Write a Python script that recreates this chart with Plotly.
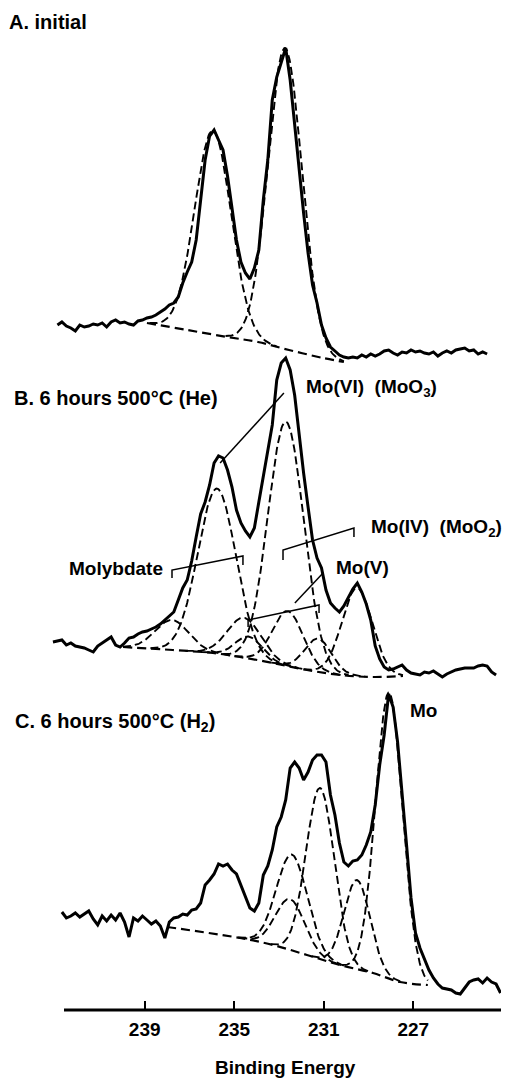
import numpy as np
import plotly.graph_objects as go

W, H = 512, 1078
STEP = 0.2  # eV per channel
FONT = "Liberation Sans"

# ---------------- measured Mo 3d spectra (arbitrary units) ----------------
# channel 0 sits at *_start, binding energy decreases by STEP per channel
A_start = 242.9
A_counts = [50, 53, 49, 47, 44, 50, 48, 49, 51, 50, 52, 48, 53, 55, 52, 53, 51, 50, 54, 55,
            57, 58, 60, 63, 66, 70, 72, 78, 92, 103, 113, 135, 175, 215, 239, 245, 235, 225, 199, 167,
            135, 113, 102, 96, 107, 125, 175, 215, 275, 298, 313, 327, 295, 250, 203, 162, 122, 90, 72, 50,
            37, 28, 24, 20, 18, 17, 18, 17, 20, 18, 21, 19, 21, 24, 25, 22, 20, 23, 22, 25,
            23, 24, 22, 21, 23, 19, 22, 24, 22, 25, 26, 27, 24, 25, 21, 23, 21]

B_start = 243.1
B_counts = [58, 59, 60, 55, 57, 54, 53, 52, 50, 48, 54, 57, 60, 63, 55, 53, 57, 62, 63, 66,
            68, 69, 71, 73, 76, 80, 84, 88, 100, 112, 120, 139, 163, 186, 198, 215, 237, 244, 242, 230,
            213, 190, 177, 169, 163, 172, 198, 225, 248, 275, 320, 337, 342, 330, 305, 263, 227, 193, 160, 142,
            132, 110, 97, 92, 88, 94, 102, 111, 117, 108, 96, 80, 54, 41, 33, 30, 31, 33, 35, 30,
            27, 26, 25, 28, 27, 29, 26, 23, 26, 28, 30, 31, 32, 32, 32, 34, 35, 34, 28, 25]

C_start = 242.7
C_counts = [98, 92, 94, 97, 93, 96, 99, 91, 85, 94, 89, 95, 90, 97, 88, 73, 92, 89, 94, 90,
            86, 89, 84, 72, 88, 92, 93, 96, 95, 100, 101, 107, 125, 130, 136, 146, 144, 146, 140, 136,
            124, 113, 102, 99, 107, 135, 144, 160, 183, 193, 210, 242, 248, 242, 230, 238, 250, 255, 255, 248,
            215, 195, 167, 148, 144, 149, 150, 155, 165, 178, 205, 245, 275, 316, 303, 268, 220, 165, 112, 77,
            62, 50, 40, 32, 26, 22, 21, 20, 17, 16, 22, 28, 30, 31, 27, 32, 28, 26, 17]

# ---------------- fitted backgrounds (BE, intensity) ----------------
A_bg_E = [238.9, 237.1, 235.3, 233.94, 232.55, 231.03, 230.1]
A_bg_I = [52, 45, 38, 33, 25, 17, 13]
B_bg_E = [239.97, 237.74, 235.95, 234.74, 233.27, 231.75, 230.27, 228.8, 227.46]
B_bg_I = [53, 50, 47, 43, 37, 30, 25, 23, 24]
C_bg_E = [238.0, 234.74, 233.27, 231.75, 230.27, 228.8, 227.59, 226.35]
C_bg_I = [83, 72, 65, 55, 45, 37, 28, 25]

# ---------------- fitted Gaussian components: centre (eV), height, sigma (eV) ----------------
A_peak_center = [235.95, 232.73]
A_peak_height = [204, 301]
A_peak_sigma = [0.81, 0.76]

B_peak_center = [237.78, 235.77, 234.55, 234.35, 232.69, 232.6, 231.25, 229.51]
B_peak_height = [30, 165, 40, 22, 244, 55, 33, 88]
B_peak_sigma = [0.75, 0.85, 0.75, 0.6, 0.8, 0.68, 0.6, 0.68]

C_peak_center = [232.42, 232.5, 231.16, 229.51, 228.08]
C_peak_height = [96, 51, 171, 89, 286]
C_peak_sigma = [0.69, 0.65, 0.63, 0.58, 0.6]

TICKS = [239, 235, 231, 227]


def energies(start, n):
    return np.round(start - STEP * np.arange(n), 2)


def component(center, height, sigma, bg_e, bg_i):
    bg_e = np.asarray(bg_e, float)
    bg_i = np.asarray(bg_i, float)
    hi = min(center + 3.5 * sigma, bg_e.max())
    lo = max(center - 3.5 * sigma, bg_e.min())
    e = np.linspace(hi, lo, 160)
    base = np.interp(e, bg_e[::-1], bg_i[::-1])
    return e, base + height * np.exp(-0.5 * ((e - center) / sigma) ** 2)


fig = go.Figure()

panels = [
    ("y", A_start, A_counts, A_bg_E, A_bg_I, A_peak_center, A_peak_height, A_peak_sigma),
    ("y2", B_start, B_counts, B_bg_E, B_bg_I, B_peak_center, B_peak_height, B_peak_sigma),
    ("y3", C_start, C_counts, C_bg_E, C_bg_I, C_peak_center, C_peak_height, C_peak_sigma),
]

DASH_BG = dict(color="black", width=2.2, dash="9px,5px")
DASH_PK = dict(color="black", width=1.9, dash="8px,4px")

for yref, start, counts, bg_e, bg_i, pc, ph, ps in panels:
    # background
    fig.add_trace(go.Scatter(x=bg_e, y=bg_i, mode="lines", line=DASH_BG,
                             line_shape="spline", xaxis="x", yaxis=yref, hoverinfo="skip"))
    # components
    for c, h, s in zip(pc, ph, ps):
        e, v = component(c, h, s, bg_e, bg_i)
        fig.add_trace(go.Scatter(x=e, y=v, mode="lines", line=DASH_PK,
                                 xaxis="x", yaxis=yref, hoverinfo="skip"))
    # measured spectrum
    fig.add_trace(go.Scatter(x=energies(start, len(counts)), y=counts, mode="lines",
                             line=dict(color="black", width=3), xaxis="x", yaxis=yref,
                             hoverinfo="skip"))

# ---------------- assignment brackets and leaders (panel B) ----------------
LEAD = dict(color="black", width=1.5)
leaders = [
    ([235.63, 232.78], [237, 307]),                          # Mo(VI) pointer
    ([237.78, 237.78, 234.61, 234.61], [122, 130, 144, 135]),  # molybdate doublet
    ([232.82, 232.82, 229.65, 229.65], [140, 150, 172, 163]),  # Mo(IV) doublet
    ([234.38, 234.38, 231.21, 231.21], [73, 80, 95, 87]),      # Mo(V) doublet
    ([231.03, 232.29], [127, 97]),                           # Mo(V) pointer
]
for lx, ly in leaders:
    fig.add_trace(go.Scatter(x=lx, y=ly, mode="lines", line=LEAD,
                             xaxis="x", yaxis="y2", hoverinfo="skip"))


def px_x(v):
    return v / W


def px_y(v):
    return 1 - v / H


labels = [
    ("A. initial", 7, 22, 20),
    ("B. 6 hours 500°C (He)", 12, 398, 20),
    ("C. 6 hours 500°C (H<sub>2</sub>)", 13, 722, 20),
    ("Molybdate", 67, 568, 19),
    ("Mo(VI)\u00a0\u00a0(MoO<sub>3</sub>)", 304, 388, 19),
    ("Mo(IV)\u00a0\u00a0(MoO<sub>2</sub>)", 369, 528, 19),
    ("Mo(V)", 334, 567, 19),
    ("Mo", 408, 710, 19),
]
annotations = []
for txt, lx, ly, fs in labels:
    annotations.append(dict(text=txt, x=px_x(lx), y=px_y(ly), xref="paper", yref="paper",
                            xanchor="left", yanchor="middle", showarrow=False,
                            font=dict(family=FONT, size=fs, color="black", weight="bold")))
annotations.append(dict(text="Binding Energy", x=px_x(285), y=px_y(1067), xref="paper", yref="paper",
                        xanchor="center", yanchor="middle", showarrow=False,
                        font=dict(family=FONT, size=19, color="black", weight="bold")))

x_lo_px, x_hi_px = 52, 501
E_left = 239 + (144.7 - x_lo_px) / 22.38
E_right = 239 - (x_hi_px - 144.7) / 22.38

fig.update_layout(
    width=W, height=H,
    margin=dict(l=0, r=0, t=0, b=0),
    paper_bgcolor="white", plot_bgcolor="rgba(0,0,0,0)",
    showlegend=False,
    hovermode=False,
    annotations=annotations,
    xaxis=dict(domain=[px_x(x_lo_px), px_x(x_hi_px)], range=[E_left, E_right],
               anchor="y3", showline=False, showgrid=False, zeroline=False,
               ticks="inside", ticklen=9, tickwidth=2, tickcolor="black",
               ticklabelstandoff=6,
               tickvals=TICKS, ticktext=[str(t) for t in TICKS],
               tickfont=dict(family=FONT, size=19, color="black", weight="bold")),
    yaxis=dict(domain=[px_y(375), px_y(30)], range=[0, 345], visible=False, anchor="x"),
    yaxis2=dict(domain=[px_y(700), px_y(350)], range=[0, 350], visible=False, anchor="x"),
    yaxis3=dict(domain=[px_y(1010), px_y(680)], range=[0, 330], visible=False, anchor="x"),
    shapes=[dict(type="line", xref="x", yref="paper",
                 x0=239 + (144.7 - 64) / 22.38, x1=E_right,
                 y0=px_y(1010), y1=px_y(1010),
                 line=dict(color="black", width=3))],
)

fig.write_html("out.html", config={"displayModeBar": False})
